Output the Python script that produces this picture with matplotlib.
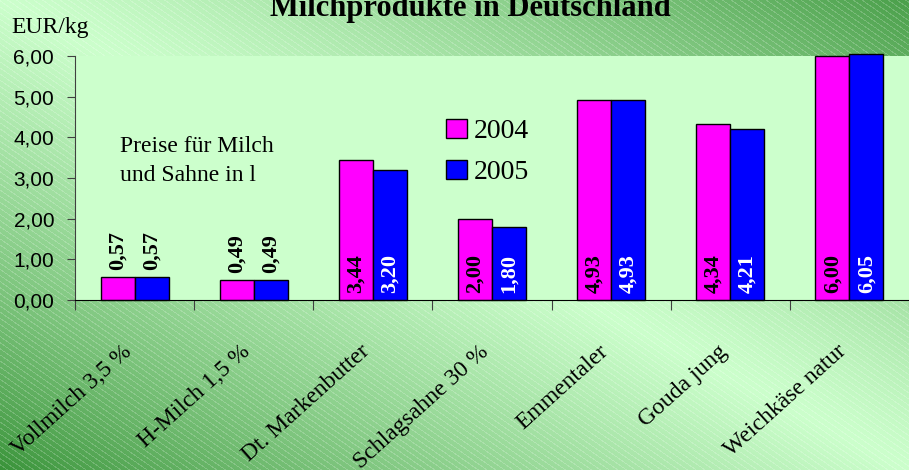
import numpy as np
import matplotlib.pyplot as plt

plt.rcParams['font.family'] = ['Liberation Serif', 'DejaVu Serif']

# Daten
produkte = ["Vollmilch 3,5 %", "H-Milch 1,5 %", "Dt. Markenbutter", "Schlagsahne 30 %",
            "Emmentaler", "Gouda jung", "Weichkäse natur"]
preise_2004 = [0.57, 0.49, 3.44, 2.00, 4.93, 4.34, 6.00]
preise_2005 = [0.57, 0.49, 3.20, 1.80, 4.93, 4.21, 6.05]
jahre = ["2004", "2005"]
yticks = [0, 1, 2, 3, 4, 5, 6]

W, H = 909, 470
fig = plt.figure(figsize=(W / 100, H / 100), dpi=100)

# Hintergrund: diagonaler Farbverlauf mit feinen Streifen
yy, xx = np.mgrid[0:H, 0:W].astype(float)
s = (xx / W + (1 - yy / H)) / 2
dunkel_lu = np.array([55, 145, 55]) / 255
hell = np.array([204, 255, 204]) / 255
dunkel_ro = np.array([75, 160, 75]) / 255
t1 = np.clip(s / 0.5, 0, 1)[..., None]
t2 = np.clip((s - 0.5) / 0.5, 0, 1)[..., None]
img = np.where(s[..., None] < 0.5,
               dunkel_lu + (hell - dunkel_lu) * t1 ** 0.8,
               hell + (dunkel_ro - hell) * t2 ** 1.2)
ang = np.deg2rad(35)
streifen = ((-xx * np.sin(ang) + yy * np.cos(ang)) % 5) < 1
img[streifen] = img[streifen] + (1 - img[streifen]) * 0.2
bg = fig.add_axes([0, 0, 1, 1], zorder=-10)
bg.imshow(img, aspect='auto', extent=[0, 1, 0, 1], origin='upper')
bg.axis('off')

# Diagramm
ax = fig.add_axes([75 / W, 170 / H, 834 / W, 244 / H])
ax.set_facecolor('#CCFFCC')
x = np.arange(len(produkte))
bw = 0.285
b1 = ax.bar(x - bw / 2, preise_2004, bw, color='#FF00FF', edgecolor='black', linewidth=1,
            label=jahre[0], clip_on=False)
b2 = ax.bar(x + bw / 2, preise_2005, bw, color='#0000FF', edgecolor='black', linewidth=1,
            label=jahre[1], clip_on=False)

ax.set_xlim(-0.5, 6.45)
ax.set_ylim(0, 6)
for sp in ['top', 'right']:
    ax.spines[sp].set_visible(False)
ax.spines['left'].set_color('#404040')
ax.spines['bottom'].set_color('black')

ax.set_yticks(yticks)
ax.set_yticklabels([("%.2f" % v).replace('.', ',') for v in yticks],
                   family='Liberation Sans', fontsize=15)
ax.tick_params(axis='y', length=6, pad=9, color='#404040')

ax.set_xticks(np.arange(len(produkte) + 1) - 0.5)
ax.set_xticklabels([])
ax.tick_params(axis='x', length=7, color='#404040')

for i, name in enumerate(produkte):
    ax.text(i - 0.05, -0.2, name, transform=ax.get_xaxis_transform(), rotation=42,
            rotation_mode='anchor', ha='right', va='center', fontsize=17)

# Datenbeschriftungen
for i in range(len(produkte)):
    for xs, v, col in [(x[i] - bw / 2, preise_2004[i], 'black'),
                       (x[i] + bw / 2, preise_2005[i], 'white')]:
        txt = ("%.2f" % v).replace('.', ',')
        if i < 2:
            ax.annotate(txt, (xs, v), xytext=(0, 5), textcoords='offset points',
                        rotation=90, ha='center', va='bottom', fontsize=16,
                        fontweight='bold', color='black')
        else:
            ax.annotate(txt, (xs, 0), xytext=(0, 5), textcoords='offset points',
                        rotation=90, ha='center', va='bottom', fontsize=16,
                        fontweight='bold', color=col)

ax.legend(loc='upper left', bbox_to_anchor=(446 / W, 1 - 119 / H),
          bbox_transform=fig.transFigure, frameon=False, fontsize=20,
          handlelength=0.75, handleheight=0.7, handletextpad=0.25,
          borderpad=0, borderaxespad=0, labelspacing=0.55)

ax.text(120 / W, 1 - 161 / H, "Preise für Milch\nund Sahne in l", transform=fig.transFigure,
        ha='left', va='center', fontsize=17, linespacing=1.45)

fig.text(11 / W, 1 - 33 / H, "EUR/kg", ha='left', va='baseline', fontsize=17)
fig.text(470 / W, 1 - 16 / H, "Milchprodukte in Deutschland", ha='center',
         va='baseline', fontsize=22, fontweight='bold')

fig.savefig('out.png', dpi=100)
